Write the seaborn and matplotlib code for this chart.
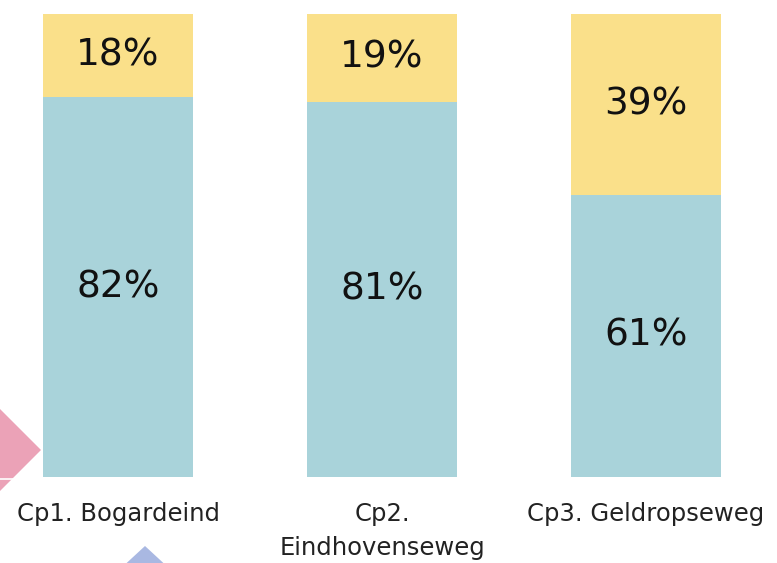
import matplotlib
matplotlib.use("Agg")
import matplotlib.pyplot as plt
from matplotlib.patches import Polygon
import pandas as pd
import seaborn as sns

# data
locations = ["Cp1. Bogardeind", "Cp2.\nEindhovenseweg", "Cp3. Geldropseweg"]
share_bottom = [82, 81, 61]   # teal part
share_top = [18, 19, 39]      # yellow part

TEAL = "#a9d3da"
YELLOW = "#fae08a"

df = pd.DataFrame({
    "location": locations,
    "bottom": share_bottom,
    "top": share_top,
})
df["total"] = df["bottom"] + df["top"]

sns.set_theme(style="white")
plt.rcParams["font.family"] = ["DejaVu Sans"]

W, H = 777, 563
fig = plt.figure(figsize=(W / 100, H / 100), dpi=100)
fig.patch.set_facecolor("white")

# axes: bars from y=14px to y=477px, bar centres 118, 382, 646 px
step = 264.0
ax = fig.add_axes([0, (H - 477) / H, 1, 463 / H])

sns.barplot(data=df, x="location", y="total", order=locations,
            color=YELLOW, width=150 / step, saturation=1, linewidth=0, ax=ax)
sns.barplot(data=df, x="location", y="bottom", order=locations,
            color=TEAL, width=150 / step, saturation=1, linewidth=0, ax=ax)

ax.set_xlim((0 - 118) / step, (W - 118) / step)
ax.set_ylim(0, 100)

for i, row in df.iterrows():
    ax.text(i, row["bottom"] / 2, f"{row['bottom']}%", ha="center", va="center",
            fontsize=27, color="#111111")
    ax.text(i, row["bottom"] + row["top"] / 2, f"{row['top']}%", ha="center",
            va="center", fontsize=27, color="#111111")

ax.set_xlabel("")
ax.set_ylabel("")
ax.set_yticks([])
ax.tick_params(axis="x", length=0, pad=18, labelsize=17.5, labelcolor="#222222")
for lab in ax.get_xticklabels():
    lab.set_linespacing(1.5)
for s in ax.spines.values():
    s.set_visible(False)

# slide decorations at the edges
diamond = Polygon([(41, H - 450), (0, H - 409), (-41, H - 450), (0, H - 491)],
                  closed=True, transform=None, facecolor="#eba2b7",
                  edgecolor="none", zorder=0)
fig.patches.append(diamond)
fig.add_artist(plt.Line2D([0, 14 / W], [(H - 479) / H, (H - 479) / H],
                          color="white", lw=1.2))
tri = Polygon([(145, H - 546), (105, -20), (185, -20)], closed=True,
              transform=None, facecolor="#a9b8e2", edgecolor="none", zorder=0)
fig.patches.append(tri)

fig.savefig("out.png", dpi=100, facecolor="white")
